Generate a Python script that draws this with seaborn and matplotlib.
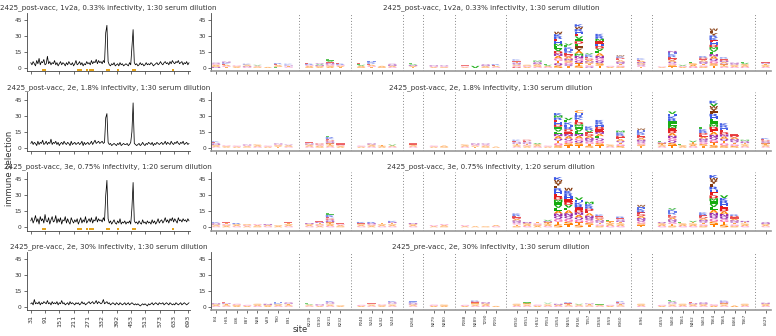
import numpy as np
import pandas as pd
import matplotlib
matplotlib.use("Agg")
import matplotlib.pyplot as plt
import seaborn as sns
from matplotlib.textpath import TextPath
from matplotlib.patches import PathPatch
from matplotlib.font_manager import FontProperties
from matplotlib.transforms import Affine2D

sns.set_theme(style="ticks")
plt.rcParams['font.family'] = ['DejaVu Sans']

# ---------------- data ----------------
row_titles = [
    "2425_post-vacc, 1v2a, 0.33% infectivity, 1:30 serum dilution",
    "2425_post-vacc, 2e, 1.8% infectivity, 1:30 serum dilution",
    "2425_post-vacc, 3e, 0.75% infectivity, 1:20 serum dilution",
    "2425_pre-vacc, 2e, 30% infectivity, 1:30 serum dilution",
]

# line values, one value every 5 sites starting at site 31
line_start = 31
line_step = 5
line_row1 = [5, 3, 6, 4, 2, 7, 4, 9, 3, 6,
             5, 8, 3, 4, 11, 4, 6, 3, 5, 4,
             7, 3, 5, 2, 4, 6, 3, 5, 4, 2,
             5, 3, 6, 4, 3, 5, 2, 4, 7, 3,
             4, 6, 3, 5, 2, 4, 3, 6, 4, 5,
             3, 7, 4, 6, 5, 8, 4, 7, 5, 6,
             4, 7, 5, 33, 40, 6, 3, 2, 4, 3,
             5, 2, 3, 4, 2, 5, 3, 4, 2, 3,
             4, 3, 2, 5, 3, 20, 36, 5, 3, 4,
             2, 3, 5, 3, 4, 2, 3, 5, 3, 4,
             3, 5, 4, 2, 3, 4, 5, 3, 4, 6,
             4, 3, 5, 6, 4, 5, 3, 6, 4, 7,
             5, 4, 6, 5, 7, 4, 5, 6, 3, 5,
             4, 6, 3, 5]
line_row2 = [4, 6, 3, 5, 4, 2, 6, 3, 5, 4,
             7, 3, 4, 6, 3, 5, 4, 8, 3, 5,
             4, 6, 3, 5, 2, 4, 5, 3, 6, 4,
             3, 5, 4, 2, 6, 3, 4, 5, 3, 4,
             5, 3, 4, 6, 2, 5, 3, 4, 5, 3,
             4, 6, 3, 5, 7, 4, 5, 6, 4, 5,
             6, 4, 5, 28, 32, 5, 3, 4, 2, 3,
             4, 3, 2, 4, 3, 5, 2, 3, 4, 3,
             3, 4, 2, 3, 5, 15, 42, 4, 3, 2,
             3, 4, 2, 3, 5, 3, 2, 4, 3, 5,
             4, 3, 5, 2, 4, 3, 5, 4, 3, 4,
             5, 3, 4, 6, 3, 5, 4, 3, 6, 4,
             3, 5, 4, 6, 4, 3, 5, 4, 6, 3,
             4, 5, 3, 4]
line_row3 = [6, 9, 4, 7, 11, 5, 8, 3, 10, 6,
             8, 4, 12, 6, 5, 9, 3, 7, 10, 5,
             6, 11, 4, 8, 5, 9, 3, 7, 6, 10,
             4, 8, 5, 3, 9, 6, 4, 7, 5, 8,
             3, 6, 9, 4, 7, 5, 10, 4, 6, 8,
             5, 9, 4, 7, 6, 10, 5, 8, 6, 7,
             5, 9, 6, 30, 44, 8, 4, 6, 3, 5,
             7, 4, 3, 6, 4, 8, 3, 5, 4, 6,
             3, 5, 4, 6, 3, 18, 42, 6, 4, 5,
             3, 6, 4, 3, 7, 4, 5, 3, 6, 4,
             5, 3, 7, 4, 6, 3, 5, 8, 4, 6,
             7, 4, 6, 9, 5, 7, 4, 8, 6, 9,
             5, 8, 6, 4, 9, 6, 7, 5, 8, 6,
             7, 5, 8, 6]
line_row4 = [3, 4, 2, 7, 3, 4, 3, 5, 2, 4,
             3, 5, 4, 3, 6, 3, 4, 2, 5, 3,
             4, 3, 5, 2, 4, 3, 6, 3, 4, 2,
             3, 4, 2, 5, 3, 4, 3, 2, 4, 3,
             4, 2, 3, 5, 3, 4, 2, 3, 4, 5,
             3, 4, 5, 3, 4, 6, 3, 5, 4, 3,
             4, 7, 3, 4, 5, 3, 4, 2, 3, 4,
             3, 2, 4, 3, 2, 4, 3, 2, 3, 4,
             2, 3, 4, 2, 3, 4, 3, 2, 3, 2,
             3, 2, 1, 2, 3, 2, 3, 2, 1, 3,
             2, 3, 4, 2, 3, 4, 3, 2, 4, 3,
             3, 4, 2, 3, 4, 3, 2, 4, 3, 2,
             3, 2, 4, 3, 2, 3, 4, 2, 3, 4,
             3, 2, 3, 4]

left_ticks = [31, 91, 151, 211, 271, 332, 392, 453, 513, 573, 633, 693]
left_ticklabels = ["31", "91", "151", "211", "271", "332", "392", "453",
                   "513", "573", "633", "693"]

# zoomed sites (logo panel), in groups
site_groups = [
    ["I84", "H85", "L86", "E87", "N88", "V89", "T90", "E91"],
    ["K229", "D230", "K231", "K232"],
    ["P240", "S241", "V242", "S243"],
    ["E268"],
    ["N279", "N280"],
    ["P288", "N289", "T290", "P291"],
    ["K350", "K351", "H352", "P353", "G354", "N355", "R356", "T357", "D358", "I359", "K360"],
    ["I396"],
    ["G459", "S460", "T461", "N462", "S463", "T464", "T465", "E466", "T467"],
    ["L629"],
]

# total logo stack height per site
height_row1 = [5, 6, 2.5, 4, 3, 1, 4.5, 4,
               5, 4.5, 8, 5,
               5, 7, 2, 4,
               4.5,
               2.5, 2.5,
               3, 2, 3.5, 3.5,
               8, 3, 7, 4, 34, 23, 41, 14, 32, 2, 12,
               9,
               1.5, 16, 3, 6, 11, 37, 10, 5, 6,
               6]
height_row2 = [6, 3, 2, 3, 3, 2, 4, 3,
               5, 4, 11, 4,
               2, 4, 3, 3,
               4,
               2, 2,
               3, 4, 4, 1,
               7.5, 7.5, 4.4, 2, 32.5, 28, 35, 20, 26, 3, 16,
               18,
               6, 34, 3.5, 6.5, 19, 44, 23, 13, 7.5,
               9]
height_row3 = [5, 5, 4, 3, 3, 3, 2, 5,
               4, 6, 13, 4,
               5, 5, 4, 6,
               4,
               2, 3,
               2, 1, 1, 2,
               13, 5, 5, 7, 47, 37, 28, 24, 12, 7, 10,
               21,
               5, 18, 5, 6, 14, 49, 30, 12, 6,
               5]
height_row4 = [3.5, 4.4, 3, 2, 3, 3, 4.4, 4.4,
               3.4, 2.5, 5.6, 1.6,
               2, 4, 2.5, 5.6,
               5.6,
               2.2, 2.2,
               2, 6, 4.4, 1,
               3, 5, 2.2, 4, 3, 4.4, 3, 4, 3, 2, 6,
               3,
               2, 6.5, 3, 4.4, 4.4, 2.5, 6, 1.3, 3,
               4]

# letters of each stack, bottom to top
letters_row1 = ["NSAGQ", "TGAEKN", "ASG", "GNASK", "SAGV", "A", "LSAER", "GTNEK",
                "SAGRE", "ASNVQ", "ASGNEVL", "TAGRE",
                "SAVLE", "TGAERKH", "SA", "GANQ",
                "TANVL",
                "AGN", "SGQ",
                "AGLE", "V", "SANQ", "GAER",
                "DGSQNTEK", "AGS", "GSANQM", "GAVL", "SQTGANDVLMHERKW",
                "TQGSNADERHKLV", "STQGNMAYFLDIVEHRWK", "QGTSNADERKV",
                "TSQGNALVDHEMRK", "AG", "SGTQNAEDKW",
                "TGQSNAEK",
                "AG", "TSGQADERKHN", "AGV", "GASL", "SGTQNAEDR",
                "TSGQANLVMDHEKRYFW", "GSTQANDER", "GASQN", "GASVL",
                "GASTNE"]
letters_row2 = ["GASNQEK", "ASGT", "AG", "SAGN", "GAS", "AG", "TASGN", "GSAQ",
                "GASNE", "SAGD", "GASTNQDEKRL", "ASGE",
                "AG", "GASN", "AST", "GAV",
                "GASE",
                "AG", "SA",
                "GAS", "TAGN", "SAGQ", "A",
                "GASTNQEK", "ASGTNQED", "GASV", "AG", "SGTQANLVIDHERMK",
                "TSGQANEDRHKLV", "TSQGANLVIMDEKRHC", "STGQNADEVRK",
                "TSGQLANEDHRK", "GAS", "SGTQAEDRKM",
                "TSGQNADERKHW",
                "GASTNL", "TSQGNADEMLIRKHV", "ASL", "GASTV", "TSGQNAEDRKL",
                "STGQNAEDMILHRFYWVK", "SGTQANDEHRK", "SGTQNADE", "GASTNQM",
                "GASTNQDEK"]
letters_row3 = ["GASNQK", "ASGTE", "GASR", "AGS", "SAG", "GAN", "AS", "GASTE",
                "GASN", "AGSTNE", "GASTNQDERKL", "SAGE",
                "GASEK", "ASGNR", "GAST", "GASTNK",
                "GASN",
                "AG", "SAG",
                "AG", "A", "S", "GA",
                "STGQNADERK", "GASN", "ASGT", "GASTNV", "STGQNALVIMDEHRFYWK",
                "TSGQNALVDEHRKW", "STGQANDERKHV", "TSGQNAEDRKM",
                "SGTQNADEK", "GASTL", "GASTNQER",
                "TSGQNADERKHW",
                "GASQ", "STGQNADERHKV", "GASL", "GASTV", "SGTQNADERK",
                "TSGQNALVIMDEHRFYWK", "STGQNADEHRKV", "SGTQNAEDR", "GASTN",
                "GASNQ"]
letters_row4 = ["GASN", "GASTNE", "ASG", "AG", "GAS", "ASN", "GASKH", "GASTNQ",
                "GASVL", "AGN", "GASTNQK", "AS",
                "AG", "GASTE", "ASG", "GASTNQK",
                "GASNQKH",
                "AG", "AS",
                "AG", "GASTEDR", "GASN", "A",
                "GAS", "GASTVL", "AG", "GASLV", "GAN", "GASTER", "GASV",
                "GASTNE", "GASL", "AG", "GASTNQERL",
                "GAS",
                "AG", "GASTNQVL", "GAS", "GASNE", "GASNQ", "AG", "GASTNQK", "A", "GAS",
                "GASN"]

highlight_rows = [True, False, True, False]

aa_colors = {
    "G": "#f76ab4", "A": "#ff7f00", "S": "#ff7f00", "T": "#ff7f00", "C": "#ff7f00",
    "V": "#12ab0d", "L": "#12ab0d", "I": "#12ab0d", "M": "#12ab0d", "P": "#12ab0d",
    "F": "#84380b", "W": "#84380b", "Y": "#84380b",
    "E": "#e41a1c", "D": "#e41a1c",
    "H": "#3c58e5", "K": "#3c58e5", "R": "#3c58e5",
    "N": "#972aa8", "Q": "#972aa8",
}

line_rows = [line_row1, line_row2, line_row3, line_row4]
height_rows = [height_row1, height_row2, height_row3, height_row4]
letter_rows = [letters_row1, letters_row2, letters_row3, letters_row4]

# ---------------- layout helpers ----------------
site_labels = [s for g in site_groups for s in g]
site_nums = [int(s[1:]) for s in site_labels]
positions = []
gap_positions = []
p = 0
for gi, g in enumerate(site_groups):
    for _ in g:
        positions.append(p)
        p += 1
    if gi < len(site_groups) - 1:
        gap_positions.append(p)
        p += 1
n_slots = p

fp = FontProperties(family="DejaVu Sans", weight="bold")
letter_paths = {aa: TextPath((0, 0), aa, size=1, prop=fp) for aa in aa_colors}


def draw_letter(ax, ch, x, y, w, h, color, alpha):
    tp = letter_paths[ch]
    bb = tp.get_extents()
    t = (Affine2D().translate(-bb.x0, -bb.y0)
         .scale(w / bb.width, h / bb.height)
         .translate(x - w / 2, y))
    ax.add_patch(PathPatch(t.transform_path(tp), facecolor=color,
                           edgecolor="none", lw=0, alpha=alpha))


W, H = 776, 336
fig = plt.figure(figsize=(W / 100, H / 100), dpi=100)

text_col = "#333333"
title_fs = 5.1
ytick_fs = 4.2
ylim = (-3, 52)
row_zero_px = [68, 147.7, 227.3, 307]
unit_px = 16 / 15.0

left_x0, left_x1 = 26.7, 190
right_x0, right_x1 = 210.8, 770.8

for r in range(4):
    top_px = row_zero_px[r] - (ylim[1]) * unit_px
    bot_px = row_zero_px[r] - (ylim[0]) * unit_px
    rect_y = 1 - bot_px / H
    rect_h = (bot_px - top_px) / H
    axl = fig.add_axes([left_x0 / W, rect_y, (left_x1 - left_x0) / W, rect_h])
    axr = fig.add_axes([right_x0 / W, rect_y, (right_x1 - right_x0) / W, rect_h])

    # ---- line panel ----
    vals = line_rows[r]
    df = pd.DataFrame({"site": [line_start + line_step * i for i in range(len(vals))],
                       "selection": vals})
    if highlight_rows[r]:
        hl = pd.DataFrame({"site": site_nums, "y": [-1.6] * len(site_nums)})
        axl.scatter(hl["site"], hl["y"], marker="s", s=3, color="#e3a21a",
                    linewidths=0, zorder=1)
    sns.lineplot(data=df, x="site", y="selection", ax=axl, color="black",
                 lw=0.55, zorder=2)
    axl.set_xlim(14, 700)
    axl.set_ylim(*ylim)
    axl.set_xticks(left_ticks)
    if r == 3:
        axl.set_xticklabels(left_ticklabels, rotation=90, fontsize=4.6, color=text_col)
    else:
        axl.set_xticklabels([])
    axl.set_yticks([0, 15, 30, 45])
    axl.set_yticklabels(["0", "15", "30", "45"], fontsize=ytick_fs, color=text_col)
    axl.set_xlabel("")
    axl.set_ylabel("")
    axl.set_title(row_titles[r], fontsize=title_fs, color=text_col, pad=2.5)

    # ---- logo panel ----
    for pos, tot, lets in zip(positions, height_rows[r], letter_rows[r]):
        h = tot / len(lets)
        a = min(1.0, 0.4 + 0.25 * h)
        y = 0.0
        for ch in lets:
            draw_letter(axr, ch, pos, y, 0.82, h, aa_colors[ch], a)
            y += h
    for gp in gap_positions:
        axr.axvline(gp, color="#888888", ls=(0, (1, 2)), lw=0.7, zorder=0)
    axr.set_xlim(-0.5, n_slots - 0.5)
    axr.set_ylim(*ylim)
    axr.set_xticks(positions)
    if r == 3:
        axr.set_xticklabels(site_labels, rotation=90, fontsize=3.0, color=text_col)
    else:
        axr.set_xticklabels([])
    axr.set_yticks([0, 15, 30, 45])
    axr.set_yticklabels(["0", "15", "30", "45"], fontsize=ytick_fs, color=text_col)
    axr.set_title(row_titles[r], fontsize=title_fs, color=text_col, pad=2.5)
    axr.spines["bottom"].set_color("#999999")
    axr.spines["bottom"].set_linewidth(1.2)

    for ax in (axl, axr):
        sns.despine(ax=ax)
        ax.tick_params(axis="both", length=2, width=0.5, pad=1.5, colors=text_col)
        ax.spines["left"].set_linewidth(0.6)
        ax.spines["left"].set_color("#444444")
    axl.spines["bottom"].set_linewidth(0.6)
    axl.spines["bottom"].set_color("#444444")

fig.text(10 / W, 0.5, "immune selection", rotation=90, ha="center", va="center",
         fontsize=6, color=text_col)
fig.text(300 / W, 1 - 329 / H, "site", ha="center", va="center",
         fontsize=6, color=text_col)

fig.savefig("out.png", dpi=100)
